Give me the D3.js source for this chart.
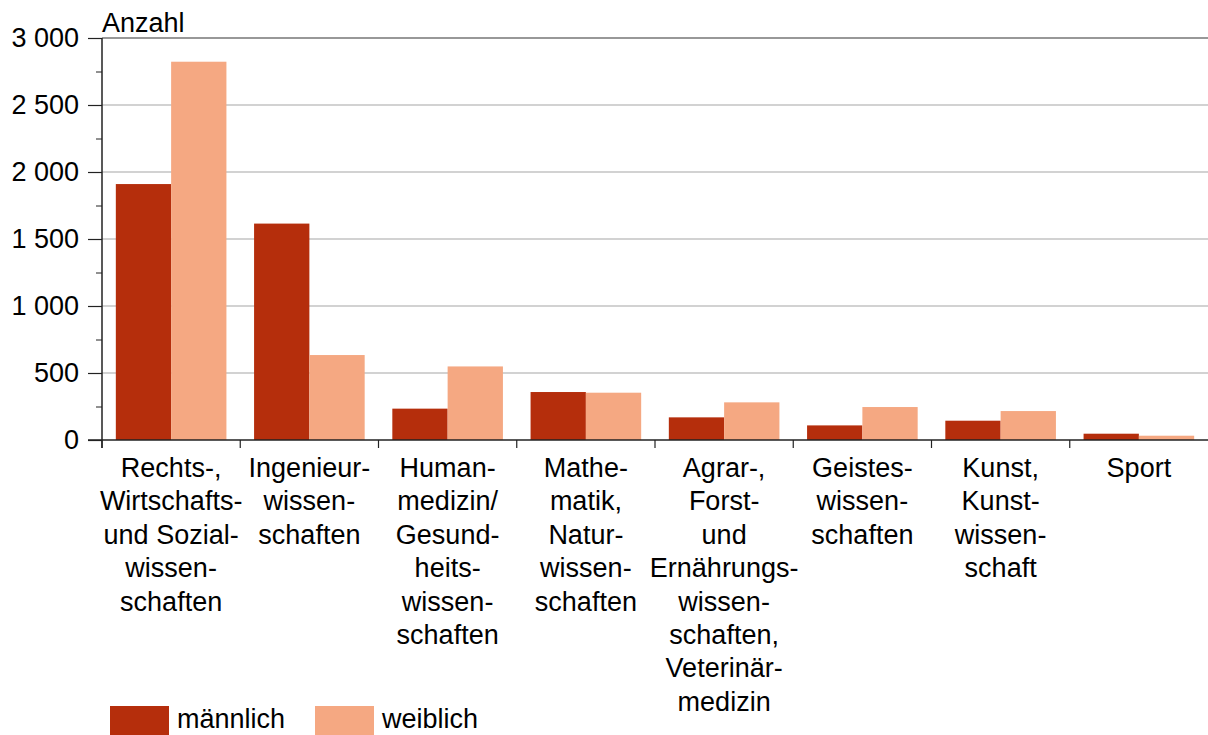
<!DOCTYPE html>
<html lang="de">
<head>
<meta charset="UTF-8">
<title>Anzahl nach Fächergruppe und Geschlecht</title>
<script src="https://d3js.org/d3.v7.min.js"></script>
<style>
    body { margin: 0; background: #fff; }
    svg text { font-family: "Liberation Sans", Arial, sans-serif; fill: #000; }
    .axis text { font-size: 27px; }
    .axis path, .axis line { stroke: #222; }
</style>
</head>
<body>
<svg width="1208" height="735"></svg>
<script>
    // Kategorien (Zeilen wie im Original umbrochen)
    const categories = [
        ["Rechts-,", "Wirtschafts-", "und Sozial-", "wissen-", "schaften"],
        ["Ingenieur-", "wissen-", "schaften"],
        ["Human-", "medizin/", "Gesund-", "heits-", "wissen-", "schaften"],
        ["Mathe-", "matik,", "Natur-", "wissen-", "schaften"],
        ["Agrar-,", "Forst-", "und", "Ernährungs-", "wissen-", "schaften,", "Veterinär-", "medizin"],
        ["Geistes-", "wissen-", "schaften"],
        ["Kunst,", "Kunst-", "wissen-", "schaft"],
        ["Sport"]
    ];
    const maennlich = [1910, 1615, 234, 358, 169, 109, 144, 47];
    const weiblich  = [2823, 634, 549, 353, 281, 246, 216, 32];
    const seriesNames = ["männlich", "weiblich"];
    const seriesColors = ["#b52e0c", "#f5a882"];
    const yTicks = [0, 500, 1000, 1500, 2000, 2500, 3000];

    const svg = d3.select("svg");
    const mLeft = 102, mRight = 1208, mTop = 38, mBottom = 440;

    const x = d3.scaleBand()
        .domain(d3.range(categories.length))
        .range([mLeft, mRight])
        .paddingInner(0.2)
        .paddingOuter(0.1);
    const xs = d3.scaleBand()
        .domain(seriesNames)
        .range([0, x.bandwidth()]);
    const y = d3.scaleLinear().domain([0, 3000]).range([mBottom, mTop]);

    const fmt = d3.formatLocale({ decimal: ",", thousands: " ", grouping: [3], currency: ["", " €"] }).format(",d");

    // Gitterlinien
    svg.append("g")
        .selectAll("line")
        .data(yTicks.slice(1))
        .join("line")
        .attr("x1", mLeft).attr("x2", mRight)
        .attr("y1", d => y(d)).attr("y2", d => y(d))
        .attr("stroke", d => d === 3000 ? "#333" : "#a6a6a6")
        .attr("stroke-width", 1.2);

    // Balken
    const rows = categories.map((c, i) => ({ i, values: [maennlich[i], weiblich[i]] }));
    svg.append("g")
        .selectAll("g")
        .data(rows)
        .join("g")
        .attr("transform", d => `translate(${x(d.i)},0)`)
        .selectAll("rect")
        .data(d => d.values.map((v, k) => ({ k, v })))
        .join("rect")
        .attr("x", d => xs(seriesNames[d.k]))
        .attr("width", xs.bandwidth())
        .attr("y", d => y(d.v))
        .attr("height", d => y(0) - y(d.v))
        .attr("fill", d => seriesColors[d.k]);

    // y-Achse: Haupt- und Nebenstriche
    const yAxis = svg.append("g")
        .attr("class", "axis")
        .attr("transform", `translate(${mLeft},0)`)
        .call(d3.axisLeft(y).tickValues(yTicks).tickFormat(fmt).tickSize(14).tickPadding(9));
    yAxis.select(".domain").remove();
    yAxis.selectAll("line").attr("stroke-width", 1.2);

    svg.append("g")
        .attr("class", "axis")
        .attr("transform", `translate(${mLeft},0)`)
        .call(d3.axisLeft(y).tickValues(d3.range(250, 3000, 500)).tickFormat("").tickSize(6))
        .call(g => g.select(".domain").remove());

    svg.append("line")
        .attr("x1", mLeft).attr("x2", mLeft)
        .attr("y1", mTop).attr("y2", mBottom + 8)
        .attr("stroke", "#222").attr("stroke-width", 1.5);

    // x-Achse
    svg.append("line")
        .attr("x1", mLeft - 14).attr("x2", mRight)
        .attr("y1", mBottom).attr("y2", mBottom)
        .attr("stroke", "#222").attr("stroke-width", 1.5);

    svg.append("g")
        .selectAll("line")
        .data(d3.range(categories.length))
        .join("line")
        .attr("x1", d => x(d) - x.step() * 0.1)
        .attr("x2", d => x(d) - x.step() * 0.1)
        .attr("y1", mBottom).attr("y2", mBottom + 8)
        .attr("stroke", "#222").attr("stroke-width", 1.2);

    // Kategorienbeschriftung
    svg.append("g")
        .selectAll("text")
        .data(categories)
        .join("text")
        .attr("text-anchor", "middle")
        .attr("font-size", 27)
        .attr("transform", (d, i) => `translate(${x(i) + x.bandwidth() / 2},477)`)
        .selectAll("tspan")
        .data(d => d)
        .join("tspan")
        .attr("x", 0)
        .attr("y", (d, j) => j * 33.4)
        .text(d => d);

    // Achsentitel
    svg.append("text")
        .attr("x", mLeft)
        .attr("y", 32)
        .attr("font-size", 27)
        .text("Anzahl");

    // Legende
    const legendX = [110, 315];
    const legend = svg.append("g")
        .selectAll("g")
        .data(seriesNames)
        .join("g")
        .attr("transform", (d, i) => `translate(${legendX[i]},706)`);
    legend.append("rect")
        .attr("width", 59).attr("height", 29)
        .attr("fill", (d, i) => seriesColors[i]);
    legend.append("text")
        .attr("x", 67).attr("y", 22)
        .attr("font-size", 27)
        .text(d => d);
</script>
</body>
</html>
